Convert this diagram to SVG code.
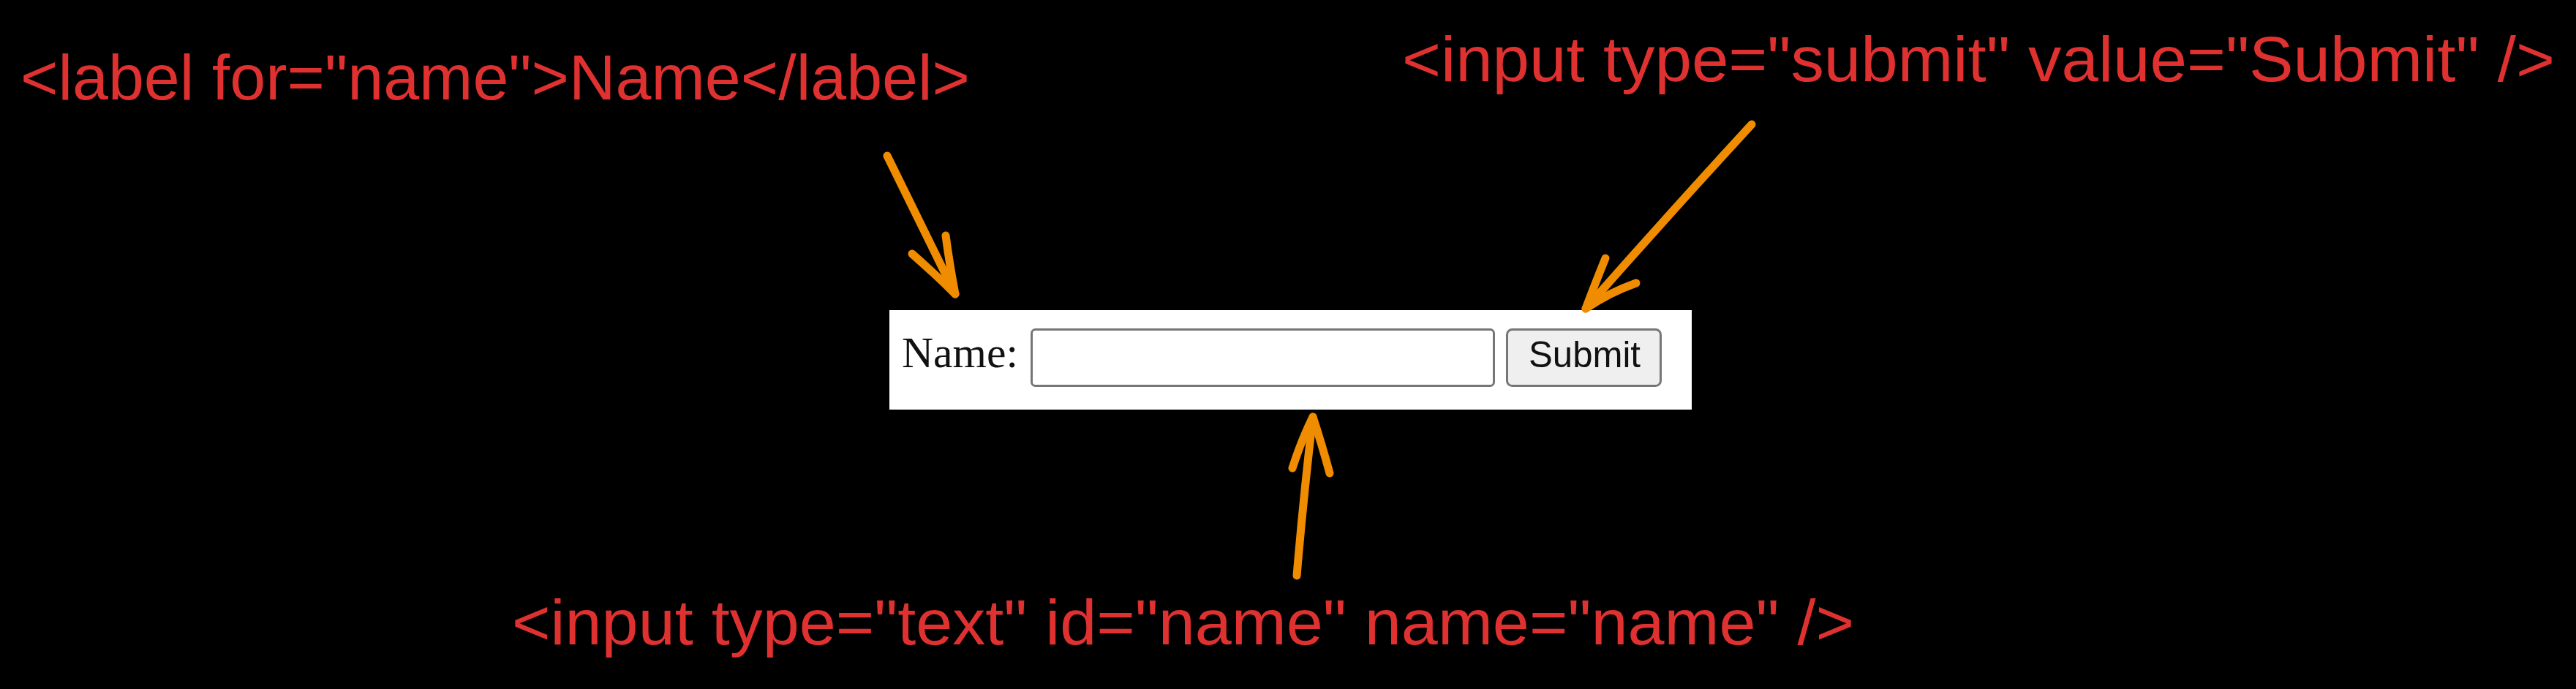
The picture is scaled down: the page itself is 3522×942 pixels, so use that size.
<svg xmlns="http://www.w3.org/2000/svg" width="3522" height="942" viewBox="0 0 3522 942">
  <style>
    .note { font-family: "Liberation Sans", "DejaVu Sans", sans-serif; font-size: 88px; fill: #e03131; }
    .arrow { fill: none; stroke: #f08c00; stroke-width: 11; stroke-linecap: round; stroke-linejoin: round; }
    .serif { font-family: "Liberation Serif", "Times New Roman", serif; font-size: 59px; fill: #111; }
    .btntext { font-family: "Liberation Sans", Arial, sans-serif; font-size: 50px; fill: #111; }
  </style>
  <rect x="0" y="0" width="3522" height="942" fill="#000"/>

  <g id="form">
    <rect x="1216" y="424" width="1097" height="136" fill="#ffffff"/>
    <text class="serif" x="1233" y="502" textLength="159" lengthAdjust="spacingAndGlyphs">Name:</text>
    <rect id="textbox" x="1410.5" y="450.5" width="632" height="77" rx="5" fill="#ffffff" stroke="#767676" stroke-width="3"/>
    <rect id="button" x="2060.5" y="450.5" width="210" height="77" rx="7" fill="#efefef" stroke="#767676" stroke-width="3"/>
    <text class="btntext" x="2090" y="502" textLength="153" lengthAdjust="spacingAndGlyphs">Submit</text>
  </g>

  <g id="label-note">
    <text class="note" x="28" y="136" textLength="1298" lengthAdjust="spacingAndGlyphs">&lt;label for="name"&gt;Name&lt;/label&gt;</text>
  </g>
  <g id="submit-note">
    <text class="note" x="1917" y="111" textLength="1576" lengthAdjust="spacingAndGlyphs">&lt;input type="submit" value="Submit" /&gt;</text>
  </g>
  <g id="text-note">
    <text class="note" x="700" y="881" textLength="1835" lengthAdjust="spacingAndGlyphs">&lt;input type="text" id="name" name="name" /&gt;</text>
  </g>

  <g id="connectors">
    <path class="arrow" d="M1213 213 Q1258 305 1306 402"/>
    <path class="arrow" d="M1247 347 Q1280 376 1306 402 Q1298 360 1293 322"/>
    <path class="arrow" d="M2395 170 Q2280 295 2168 422"/>
    <path class="arrow" d="M2195 353 Q2180 390 2168 422 Q2200 400 2237 387"/>
    <path class="arrow" d="M1773 787 Q1782 680 1795 570"/>
    <path class="arrow" d="M1767 640 Q1780 600 1795 570 Q1808 610 1818 647"/>
  </g>
</svg>
